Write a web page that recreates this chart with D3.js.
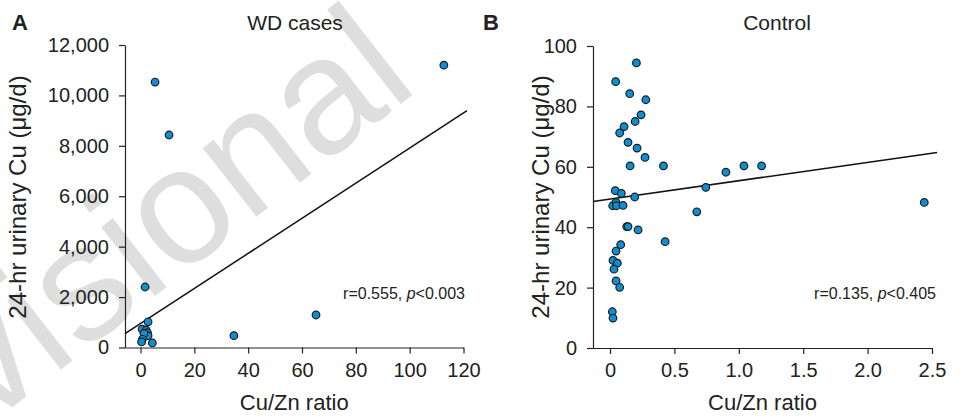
<!DOCTYPE html>
<html>
<head>
<meta charset="utf-8">
<script src="https://cdn.jsdelivr.net/npm/d3@7"></script>
<style>
  body { margin: 0; background: #fff; }
  svg { font-family: "Liberation Sans", Arial, sans-serif; }
  .axis path, .axis line { stroke: #222; stroke-width: 1.2; }
  .axis text { font-size: 20px; fill: #222; }
</style>
</head>
<body>
<svg width="962" height="416"></svg>
<script>
// WD cases: Cu/Zn ratio vs 24-hr urinary Cu
var wdRatio = [112.7, 5.4, 10.6, 1.7, 34.7, 65.2, 2.8, 0.6, 2.1, 2.6, 2.8, 1.3, 0.7, 0.4, 4.4];
var wdCu    = [11200, 10530, 8430, 2400, 470, 1290, 1020, 730, 690, 585, 470, 560, 325, 220, 180];

// controls
var ctRatio = [0.205, 0.044, 0.153, 0.278, 0.241, 0.195, 0.109, 0.075, 0.14, 0.21,
               0.272, 0.156, 0.415, 0.041, 0.088, 0.192, 0.021, 0.047, 0.05, 0.101,
               0.13, 0.14, 0.218, 0.428, 0.083, 0.047, 0.023, 0.057, 0.031, 0.047,
               0.075, 0.018, 0.023, 0.9, 1.04, 1.177, 0.744, 0.674, 2.44];
var ctCu    = [94.4, 88.2, 84.2, 82.2, 77.2, 75, 73.3, 71.2, 68.1, 66.2,
               63.1, 60.3, 60.3, 52.1, 51.2, 50, 47.1, 48.2, 47.1, 47.2,
               40.2, 40.2, 39.1, 35.2, 34.2, 32.1, 29, 28.1, 26.1, 22.2,
               20.1, 12, 9.9, 58.2, 60.3, 60.3, 53.2, 45.1, 48.2];

// regression lines [intercept, slope] and x extent
var wdFit = [950, 69.6];
var wdFitX = [-5.76, 121.3];
var ctFit = [49.3, 6.09];
var ctFitX = [-0.132, 2.54];

var wdTicksX = [0, 20, 40, 60, 80, 100, 120];
var wdTicksY = [0, 2000, 4000, 6000, 8000, 10000, 12000];
var ctTicksX = [0, 0.5, 1.0, 1.5, 2.0, 2.5];
var ctTicksY = [0, 20, 40, 60, 80, 100];

var svg = d3.select("svg");

// faint watermark behind everything
svg.append("text")
    .attr("transform", "translate(-215,585) rotate(-38)")
    .attr("font-size", 165)
    .attr("fill", "#dedede")
    .text("Provisional");

function panel(opt) {
  var x = d3.scaleLinear().domain(opt.xd).range(opt.xr);
  var y = d3.scaleLinear().domain(opt.yd).range(opt.yr);
  var g = svg.append("g");

  g.append("g")
      .attr("class", "axis")
      .attr("transform", "translate(0," + opt.yr[0] + ")")
      .call(d3.axisBottom(x).tickValues(opt.tx).tickFormat(opt.fx)
        .tickSize(6).tickSizeOuter(0).tickPadding(9));

  g.append("g")
      .attr("class", "axis")
      .attr("transform", "translate(" + opt.xr[0] + ",0)")
      .call(d3.axisLeft(y).tickValues(opt.ty).tickFormat(opt.fy)
        .tickSize(6).tickSizeOuter(0).tickPadding(10));

  // fit line
  g.append("line")
      .attr("x1", x(opt.fitX[0])).attr("y1", y(opt.fit[0] + opt.fit[1] * opt.fitX[0]))
      .attr("x2", x(opt.fitX[1])).attr("y2", y(opt.fit[0] + opt.fit[1] * opt.fitX[1]))
      .attr("stroke", "#111")
      .attr("stroke-width", 1.5);

  g.selectAll("circle")
    .data(opt.xs)
    .enter().append("circle")
      .attr("cx", function(d) { return x(d); })
      .attr("cy", function(d, i) { return y(opt.ys[i]); })
      .attr("r", 3.8)
      .attr("fill", "#0c8fd3")
      .attr("stroke", "#1b1b1b")
      .attr("stroke-width", 1.2);

  var midX = (opt.xr[0] + opt.xr[1]) / 2;

  g.append("text")
      .attr("x", opt.letterX).attr("y", 30)
      .attr("font-size", 22).attr("font-weight", "bold").attr("fill", "#222")
      .text(opt.letter);

  g.append("text")
      .attr("x", opt.titleX).attr("y", 30)
      .attr("text-anchor", "middle")
      .attr("font-size", 21).attr("fill", "#222")
      .text(opt.title);

  g.append("text")
      .attr("x", midX).attr("y", 410)
      .attr("text-anchor", "middle")
      .attr("font-size", 22).attr("fill", "#222")
      .text("Cu/Zn ratio");

  g.append("text")
      .attr("transform", "translate(" + opt.ylabX + ",197) rotate(-90)")
      .attr("text-anchor", "middle")
      .attr("font-size", 24).attr("fill", "#222")
      .text("24-hr urinary Cu (\u03bcg/d)");

  var st = g.append("text")
      .attr("x", opt.statX).attr("y", 299)
      .attr("text-anchor", "end")
      .attr("font-size", 16).attr("fill", "#222");
  st.append("tspan").text("r=" + opt.r + ", ");
  st.append("tspan").attr("font-style", "italic").text("p");
  st.append("tspan").text("<" + opt.p);
}

panel({
  xd: [-5.76, 120], xr: [125, 463.5],
  yd: [0, 12000], yr: [347.5, 45],
  tx: wdTicksX, ty: wdTicksY,
  fx: d3.format("d"), fy: d3.format(","),
  xs: wdRatio, ys: wdCu,
  fit: wdFit, fitX: wdFitX,
  letter: "A", letterX: 12, title: "WD cases", titleX: 295,
  ylabX: 26, statX: 465, r: "0.555", p: "0.003"
});

panel({
  xd: [-0.132, 2.5], xr: [593, 932],
  yd: [0, 100], yr: [348, 46],
  tx: ctTicksX, ty: ctTicksY,
  fx: function(d) { return d === 0 ? "0" : d3.format(".1f")(d); }, fy: d3.format("d"),
  xs: ctRatio, ys: ctCu,
  fit: ctFit, fitX: ctFitX,
  letter: "B", letterX: 483, title: "Control", titleX: 777,
  ylabX: 549, statX: 936, r: "0.135", p: "0.405"
});
</script>
</body>
</html>
